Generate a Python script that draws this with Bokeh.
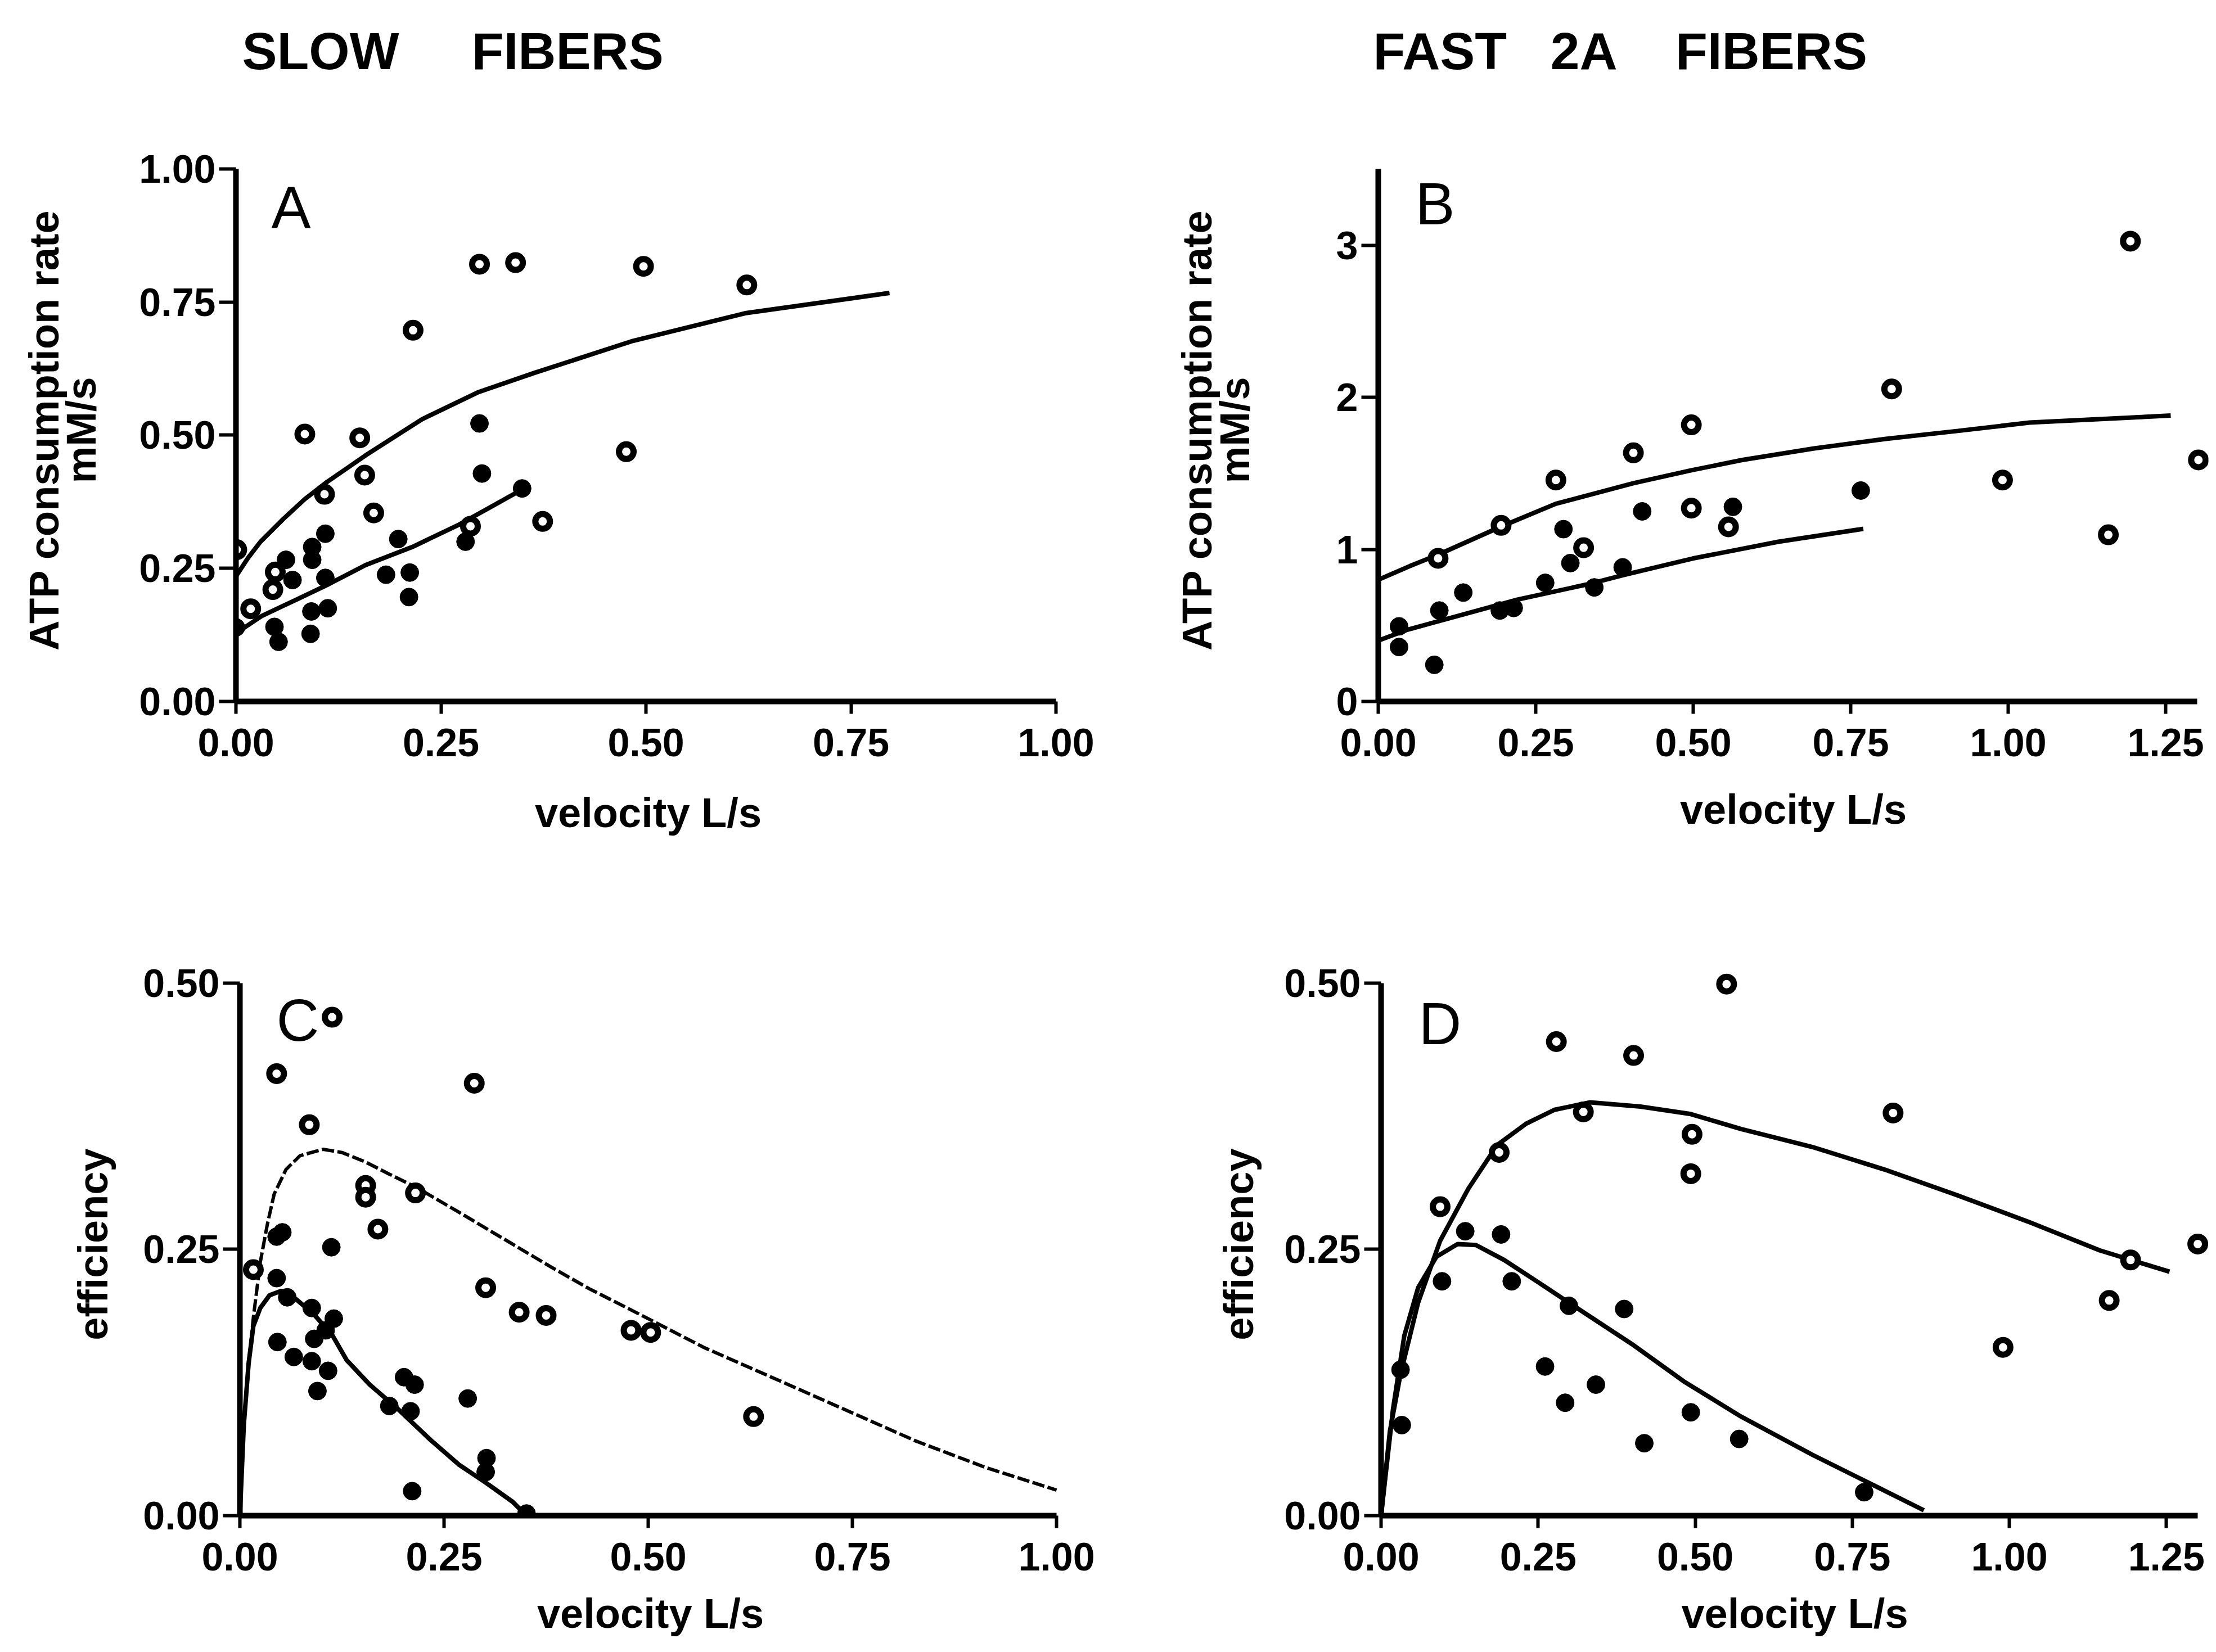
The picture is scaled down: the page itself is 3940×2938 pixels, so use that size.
from bokeh.plotting import figure
from bokeh.models import Range1d, FixedTicker, NumeralTickFormatter, Label
from bokeh.layouts import column, row
from bokeh.embed import file_html
from bokeh.resources import INLINE

# ---------------- data ----------------
# Panel A: slow fibers, ATP consumption rate (mM/s) vs velocity (L/s)
a_open_x = [0.001, 0.018, 0.045, 0.048, 0.084, 0.108, 0.151, 0.157, 0.168, 0.216, 0.286, 0.297, 0.341, 0.374, 0.476, 0.497, 0.623]
a_open_y = [0.285, 0.174, 0.210, 0.243, 0.502, 0.389, 0.495, 0.425, 0.354, 0.697, 0.329, 0.821, 0.824, 0.338, 0.469, 0.817, 0.782]
a_fill_x = [0.000, 0.047, 0.052, 0.061, 0.069, 0.091, 0.092, 0.093, 0.093, 0.109, 0.109, 0.112, 0.183, 0.198, 0.211, 0.212, 0.280, 0.297, 0.300, 0.349]
a_fill_y = [0.139, 0.140, 0.112, 0.266, 0.228, 0.127, 0.169, 0.266, 0.290, 0.315, 0.232, 0.175, 0.238, 0.305, 0.196, 0.242, 0.300, 0.522, 0.428, 0.400]
a_fit_open_x = [0.0, 0.015, 0.030, 0.058, 0.084, 0.111, 0.158, 0.227, 0.296, 0.364, 0.484, 0.621, 0.797]
a_fit_open_y = [0.235, 0.270, 0.300, 0.343, 0.380, 0.412, 0.462, 0.530, 0.581, 0.617, 0.677, 0.729, 0.767]
a_fit_fill_x = [0.0, 0.032, 0.072, 0.109, 0.158, 0.215, 0.272, 0.314, 0.349]
a_fit_fill_y = [0.128, 0.161, 0.190, 0.217, 0.256, 0.290, 0.332, 0.368, 0.398]

# Panel B: fast 2A fibers, ATP consumption rate (mM/s) vs velocity (L/s)
b_open_x = [0.095, 0.195, 0.282, 0.326, 0.405, 0.497, 0.497, 0.556, 0.815, 0.991, 1.159, 1.194, 1.302]
b_open_y = [0.941, 1.158, 1.456, 1.011, 1.635, 1.819, 1.271, 1.148, 2.055, 1.456, 1.096, 3.027, 1.588]
b_fill_x = [0.033, 0.033, 0.089, 0.097, 0.135, 0.193, 0.215, 0.265, 0.294, 0.305, 0.343, 0.388, 0.419, 0.563, 0.766]
b_fill_y = [0.494, 0.358, 0.241, 0.598, 0.716, 0.598, 0.615, 0.780, 1.133, 0.910, 0.750, 0.882, 1.250, 1.280, 1.387]
b_fit_open_x = [0.0, 0.050, 0.095, 0.195, 0.282, 0.405, 0.497, 0.578, 0.692, 0.806, 0.920, 1.034, 1.258]
b_fit_open_y = [0.800, 0.890, 0.965, 1.150, 1.300, 1.435, 1.520, 1.588, 1.664, 1.727, 1.779, 1.834, 1.880]
b_fit_fill_x = [0.0, 0.045, 0.133, 0.221, 0.332, 0.388, 0.499, 0.635, 0.770]
b_fit_fill_y = [0.400, 0.470, 0.570, 0.670, 0.770, 0.830, 0.940, 1.050, 1.135]

# Panel C: slow fibers, efficiency vs velocity (L/s)
c_open_x = [0.0165, 0.045, 0.085, 0.113, 0.154, 0.154, 0.169, 0.215, 0.287, 0.301, 0.342, 0.375, 0.479, 0.503, 0.629]
c_open_y = [0.231, 0.415, 0.367, 0.468, 0.310, 0.299, 0.269, 0.303, 0.406, 0.214, 0.191, 0.188, 0.174, 0.172, 0.093]
c_fill_x = [0.045, 0.052, 0.045, 0.112, 0.046, 0.058, 0.066, 0.088, 0.088, 0.091, 0.115, 0.108, 0.095, 0.105, 0.201, 0.214, 0.183, 0.209, 0.279, 0.302, 0.301, 0.211, 0.351]
c_fill_y = [0.262, 0.266, 0.223, 0.252, 0.163, 0.205, 0.149, 0.145, 0.195, 0.166, 0.185, 0.136, 0.117, 0.174, 0.130, 0.123, 0.103, 0.098, 0.110, 0.054, 0.041, 0.023, 0.002]
c_fit_open_x = [0.0, 0.0036, 0.009, 0.0165, 0.025, 0.0335, 0.042, 0.0565, 0.0736, 0.102, 0.125, 0.154, 0.182, 0.2166, 0.268, 0.325, 0.382, 0.428, 0.482, 0.568, 0.654, 0.741, 0.828, 0.914, 1.0]
c_fit_open_y = [0.0, 0.071, 0.129, 0.186, 0.238, 0.273, 0.302, 0.325, 0.338, 0.344, 0.341, 0.332, 0.321, 0.308, 0.285, 0.259, 0.233, 0.213, 0.192, 0.158, 0.129, 0.0995, 0.070, 0.045, 0.024]
c_fit_fill_x = [0.0, 0.0048, 0.0107, 0.0165, 0.025, 0.0364, 0.0507, 0.0676, 0.0907, 0.1136, 0.1308, 0.159, 0.1937, 0.2336, 0.268, 0.302, 0.334, 0.351]
c_fit_fill_y = [0.0, 0.085, 0.143, 0.178, 0.195, 0.207, 0.211, 0.204, 0.189, 0.169, 0.146, 0.123, 0.100, 0.071, 0.048, 0.0305, 0.013, 0.0]

# Panel D: fast 2A fibers, efficiency vs velocity (L/s)
d_open_x = [0.094, 0.188, 0.279, 0.322, 0.402, 0.495, 0.493, 0.550, 0.815, 0.990, 1.159, 1.193, 1.300]
d_open_y = [0.290, 0.341, 0.445, 0.379, 0.432, 0.358, 0.321, 0.499, 0.378, 0.158, 0.202, 0.240, 0.255]
d_fill_x = [0.031, 0.033, 0.097, 0.134, 0.191, 0.208, 0.261, 0.293, 0.299, 0.342, 0.387, 0.419, 0.493, 0.570, 0.769]
d_fill_y = [0.137, 0.085, 0.220, 0.267, 0.264, 0.220, 0.140, 0.106, 0.197, 0.123, 0.194, 0.068, 0.097, 0.072, 0.022]
d_fit_open_x = [0.0, 0.014, 0.031, 0.059, 0.094, 0.139, 0.185, 0.231, 0.276, 0.333, 0.413, 0.493, 0.573, 0.687, 0.801, 0.916, 1.030, 1.144, 1.255]
d_fit_open_y = [0.0, 0.079, 0.133, 0.200, 0.258, 0.307, 0.348, 0.368, 0.381, 0.388, 0.384, 0.377, 0.363, 0.346, 0.325, 0.301, 0.276, 0.249, 0.229]
d_fit_fill_x = [0.0, 0.019, 0.037, 0.059, 0.088, 0.122, 0.151, 0.196, 0.253, 0.322, 0.402, 0.482, 0.573, 0.687, 0.779, 0.864]
d_fit_fill_y = [0.0, 0.100, 0.169, 0.214, 0.243, 0.255, 0.254, 0.240, 0.218, 0.191, 0.160, 0.126, 0.093, 0.057, 0.030, 0.005]

ticks_slow_x = [0.0, 0.25, 0.5, 0.75, 1.0]
ticks_fast_x = [0.0, 0.25, 0.5, 0.75, 1.0, 1.25]
ticks_a_y = [0.0, 0.25, 0.5, 0.75, 1.0]
ticks_b_y = [0, 1, 2, 3]
ticks_eff_y = [0.0, 0.25, 0.5]

column_titles = ["SLOW\u00a0\u00a0\u00a0\u00a0\u00a0FIBERS", "FAST\u00a0\u00a0\u00a02A\u00a0\u00a0\u00a0\u00a0FIBERS"]

FONT = "Liberation Sans"
TOP_PAD = 18   # px of frame above the top of the y axis (room for markers)


def panel(fx0, fy0, fw, fh, x0, xu, y0, yu, frame_right, axis_top,
          xbounds, ybounds, xticks, yticks, yfmt, ylabel, ylab_standoff, xlab_standoff):
    left = round(x0 - fx0)
    frame_w = round(frame_right - x0)
    right = fw - left - frame_w
    frame_top = axis_top - TOP_PAD
    top = round(frame_top - fy0)
    frame_h = round(y0 - frame_top)
    bottom = fh - top - frame_h
    p = figure(width=fw, height=fh,
               min_border_left=left, min_border_right=right,
               min_border_top=top, min_border_bottom=bottom,
               x_range=Range1d(0, frame_w / xu),
               y_range=Range1d(0, frame_h / yu),
               output_backend="svg", toolbar_location=None, tools="")
    p.grid.visible = False
    p.outline_line_color = None
    p.xaxis.bounds = xbounds
    p.yaxis.bounds = ybounds
    p.xaxis.ticker = FixedTicker(ticks=xticks)
    p.yaxis.ticker = FixedTicker(ticks=yticks)
    p.xaxis.formatter = NumeralTickFormatter(format="0.00")
    p.yaxis.formatter = NumeralTickFormatter(format=yfmt)
    for ax in (p.xaxis, p.yaxis):
        ax.axis_line_width = 10
        ax.axis_line_color = "black"
        ax.major_tick_line_width = 6
        ax.major_tick_in = 0
        ax.minor_tick_in = 0
        ax.minor_tick_out = 0
        ax.major_label_text_font = FONT
        ax.major_label_text_font_style = "bold"
        ax.major_label_text_font_size = "70px"
        ax.major_label_text_color = "black"
        ax.axis_label_text_font = FONT
        ax.axis_label_text_font_style = "bold"
        ax.axis_label_text_font_size = "74px"
        ax.axis_label_text_color = "black"
    p.xaxis.major_tick_out = 22
    p.yaxis.major_tick_out = 30
    p.xaxis.major_label_standoff = 26
    p.yaxis.major_label_standoff = 6
    p.xaxis.axis_label = "velocity L/s"
    p.xaxis.axis_label_standoff = xlab_standoff
    p.yaxis.axis_label = ylabel
    p.yaxis.axis_label_standoff = ylab_standoff
    p.yaxis.axis_label_text_line_height = 0.8
    return p


def add_series(p, ox, oy, fx, fy, lox, loy, lfx, lfy, dashed_open=False):
    if dashed_open:
        p.line(lox, loy, line_color="black", line_width=6, line_dash="22 6")
    else:
        p.line(lox, loy, line_color="black", line_width=8)
    p.line(lfx, lfy, line_color="black", line_width=8)
    p.scatter(fx, fy, marker="circle", size=32, fill_color="black", line_color="black", line_width=1)
    p.scatter(ox, oy, marker="circle", size=26, fill_color="white", line_color="black", line_width=11)


def add_letter(p, x0, xu, y0, yu, px, py, txt):
    p.add_layout(Label(x=(px - x0) / xu, y=(y0 - py) / yu, text=txt,
                       text_font=FONT, text_font_size="105px", text_font_style="normal",
                       text_color="black", text_baseline="alphabetic", text_align="left"))


TOTAL_W = 3936
TOTAL_H = 2936
TITLE_H = 190
LEFT_W = 1958
ROW2_Y = 1508
ROW1_H = ROW2_Y - TITLE_H
RIGHT_W = TOTAL_W - LEFT_W
ROW2_H = TOTAL_H - ROW2_Y

# Column titles, in a strip above the panels (page pixel coordinates)
pT = figure(width=TOTAL_W, height=TITLE_H, min_border_left=0, min_border_right=0,
            min_border_top=0, min_border_bottom=0,
            x_range=Range1d(0, TOTAL_W), y_range=Range1d(TITLE_H, 0),
            output_backend="svg", toolbar_location=None, tools="")
pT.xaxis.visible = False
pT.yaxis.visible = False
pT.grid.visible = False
pT.outline_line_color = None
for tx, txt in zip([430, 2441], column_titles):
    pT.add_layout(Label(x=tx, y=90, text=txt, text_font=FONT, text_font_size="93px",
                        text_font_style="bold", text_color="black",
                        text_baseline="middle", text_align="left"))

# Panel A
A = dict(x0=419, xu=1458, y0=1254, yu=954)
pA = panel(0, TITLE_H, LEFT_W, ROW1_H, A["x0"], A["xu"], A["y0"], A["yu"], 1885, 300,
           (0, 1.0), (0, 1.0), ticks_slow_x, ticks_a_y, "0.00",
           "ATP consumption rate\nmM/s", 58, 56)
add_series(pA, a_open_x, a_open_y, a_fill_x, a_fill_y,
           a_fit_open_x, a_fit_open_y, a_fit_fill_x, a_fit_fill_y)
add_letter(pA, A["x0"], A["xu"], A["y0"], A["yu"], 482, 369, "A")

# Panel B
B = dict(x0=2450, xu=1120, y0=1247, yu=271)
pB = panel(LEFT_W, TITLE_H, RIGHT_W, ROW1_H, B["x0"], B["xu"], B["y0"], B["yu"], 3926, 298,
           (0, 1.30), (0, 3.5), ticks_fast_x, ticks_b_y, "0",
           "ATP consumption rate\nmM/s", 136, 50)
add_series(pB, b_open_x, b_open_y, b_fill_x, b_fill_y,
           b_fit_open_x, b_fit_open_y, b_fit_fill_x, b_fit_fill_y)
add_letter(pB, B["x0"], B["xu"], B["y0"], B["yu"], 2516, 360, "B")

# Panel C
C = dict(x0=426, xu=1452, y0=2698, yu=1900)
pC = panel(0, ROW2_Y, LEFT_W, ROW2_H, C["x0"], C["xu"], C["y0"], C["yu"], 1886, 1748,
           (0, 1.0), (0, 0.5), ticks_slow_x, ticks_eff_y, "0.00", "efficiency", 44, 32)
add_series(pC, c_open_x, c_open_y, c_fill_x, c_fill_y,
           c_fit_open_x, c_fit_open_y, c_fit_fill_x, c_fit_fill_y, dashed_open=True)
add_letter(pC, C["x0"], C["xu"], C["y0"], C["yu"], 491, 1814, "C")

# Panel D
D = dict(x0=2455, xu=1117, y0=2695, yu=1916)
pD = panel(LEFT_W, ROW2_Y, RIGHT_W, ROW2_H, D["x0"], D["xu"], D["y0"], D["yu"], 3926, 1737,
           (0, 1.30), (0, 0.5), ticks_fast_x, ticks_eff_y, "0.00", "efficiency", 36, 32)
add_series(pD, d_open_x, d_open_y, d_fill_x, d_fill_y,
           d_fit_open_x, d_fit_open_y, d_fit_fill_x, d_fit_fill_y)
add_letter(pD, D["x0"], D["xu"], D["y0"], D["yu"], 2522, 1810, "D")

layout = column(pT, row(pA, pB), row(pC, pD))

with open("out.html", "w") as f:
    f.write(file_html(layout, INLINE, title="ATP consumption and efficiency"))
